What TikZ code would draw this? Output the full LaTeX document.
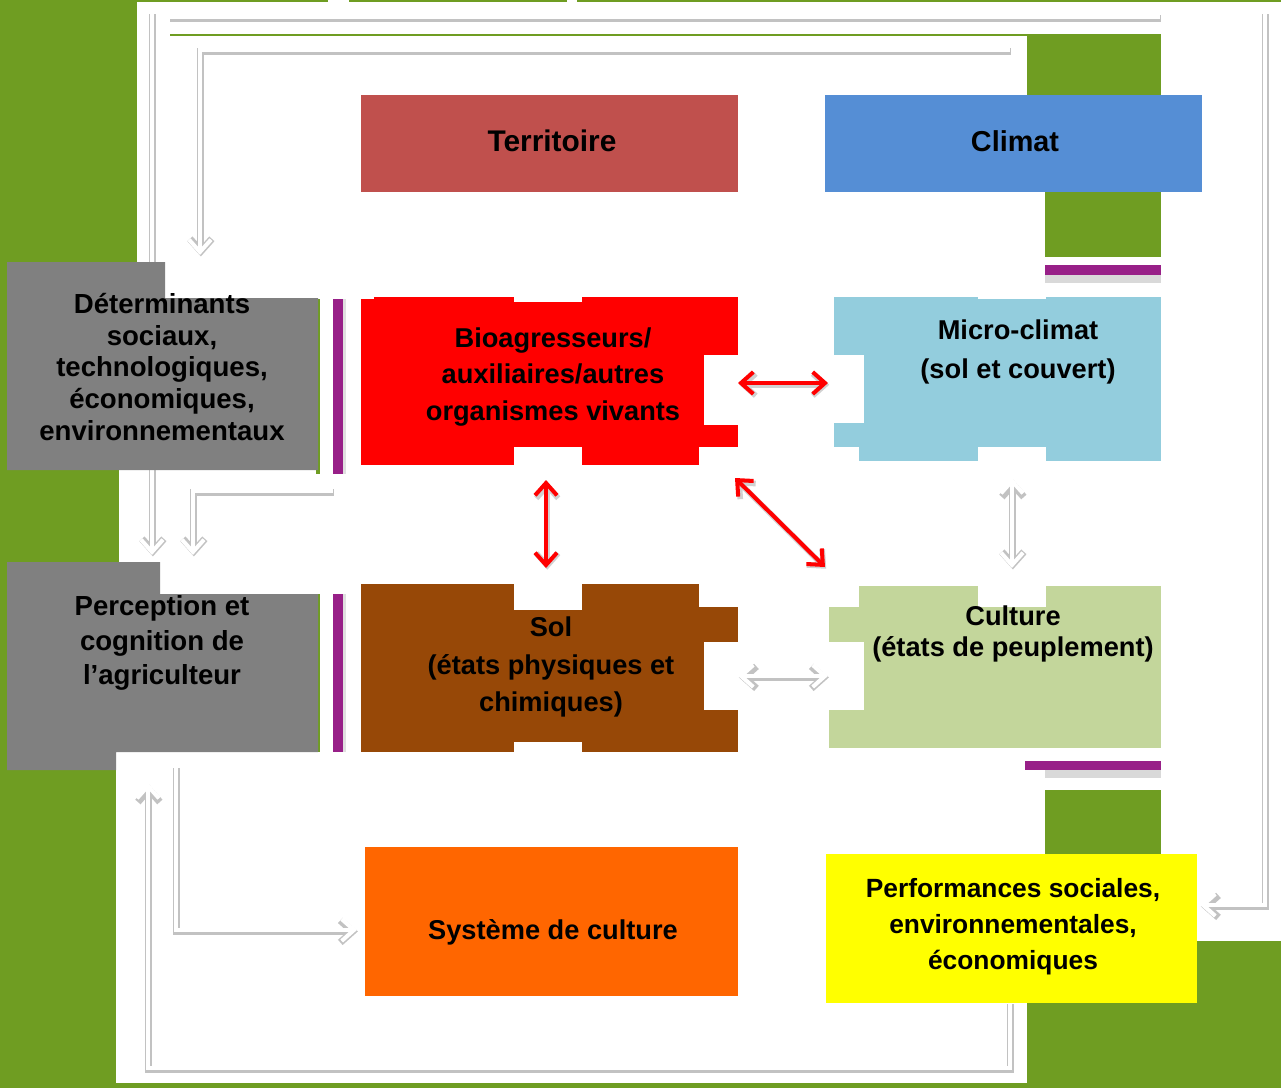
\documentclass[tikz,border=0pt]{standalone}
\usepackage{fontspec}
\setmainfont{Liberation Sans}
\usetikzlibrary{arrows.meta}
\definecolor{bg}{RGB}{111,157,34}
\definecolor{terrc}{RGB}{192,80,77}
\definecolor{climc}{RGB}{85,142,213}
\definecolor{grayc}{RGB}{128,128,128}
\definecolor{bioc}{RGB}{255,0,0}
\definecolor{solc}{RGB}{151,72,7}
\definecolor{microc}{RGB}{147,205,221}
\definecolor{cultc}{RGB}{195,214,155}
\definecolor{sysc}{RGB}{255,102,0}
\definecolor{perfc}{RGB}{255,255,0}
\definecolor{purp}{RGB}{152,32,136}
\tikzset{
  txt/.style={inner sep=0pt, align=center, text=black},
  wline/.style={draw=white, line width=2.3pt,
     preaction={draw=black!24, line width=4pt, transform canvas={shift={(0.5pt,-0.8pt)}}}},
  rline/.style={draw=bioc, line width=2.3pt,
     preaction={draw=black!18, line width=3.2pt, transform canvas={shift={(0.7pt,-1pt)}}}},
  >={Straight Barb[length=7pt,width=12.5pt]}
}
\begin{document}
\begin{tikzpicture}[x=0.02cm,y=-0.02cm]
\useasboundingbox (0,0) rectangle (1281,1088);
% background
\fill[bg] (0,0) rectangle (1281,1088);
\fill[white] (137,2) rectangle (1161,1083);
\fill[white] (1161,2) rectangle (1281,941);
\fill[white] (119,470) rectangle (137,562);
\fill[white] (116,752) rectangle (137,1083);
\fill[white] (328,0) rectangle (349,2);
\fill[white] (567,0) rectangle (577,2);
\fill[bg] (170,34) rectangle (1027,36);
\fill[bg] (1027,34) rectangle (1161,95);
\fill[bg] (1045,192) rectangle (1161,257);
\fill[bg] (1045,790) rectangle (1161,854);
\fill[bg] (1027,1003) rectangle (1281,1088);
\fill[bg] (1197,941) rectangle (1281,1003);

% named coordinates for connector ends
\coordinate (t1a) at (1160,17);
\coordinate (t1b) at (169,17);
\coordinate (l1a) at (152,13);
\coordinate (l1b) at (152,555);
\coordinate (t2a) at (1010,50);
\coordinate (t2b) at (200,255);
\coordinate (r1a) at (1265,13);
\coordinate (r1b) at (1200,905);
\coordinate (d2a) at (333,491);
\coordinate (d2b) at (193,555);
\coordinate (p1a) at (176,767);
\coordinate (p1b) at (357,930);
\coordinate (f1a) at (1010,1003);
\coordinate (f1b) at (148,783);

% long white connectors (behind boxes)
\draw[wline] (t1a) -- (t1b);
\draw[wline,->] (l1a) -- (l1b);
\draw[wline,->] (t2a) -| (t2b);
\draw[wline,->] (r1a) |- (r1b);
\draw[wline,->] (d2a) -| (d2b);
\draw[wline,->] (p1a) |- (p1b);
\draw[wline,->] (f1a) -- (1010,1068) -| (f1b);

% side strips
\fill[bg] (316,299) rectangle (320,474);
\fill[bg] (316,594) rectangle (320,752);
\fill[black!12] (343,299) rectangle (346,474);
\fill[black!12] (343,594) rectangle (346,752);
\fill[purp] (333,299) rectangle (343,474);
\fill[purp] (333,594) rectangle (343,752);
\fill[black!15] (1045,275) rectangle (1161,283);
\fill[purp] (1045,265) rectangle (1161,275);
\fill[black!15] (1045,770) rectangle (1161,778);
\fill[purp] (1025,761) rectangle (1161,770);

% boxes
\fill[terrc] (361,95) rectangle (738,192);
\fill[climc] (825,95) rectangle (1202,192);
\fill[grayc] (7,262) -- (165,262) -- (165,298) -- (318,298) -- (318,470) -- (7,470) -- cycle;
\fill[grayc] (7,562) -- (160,562) -- (160,594) -- (318,594) -- (318,752) -- (116,752) -- (116,770) -- (7,770) -- cycle;
% Bioagresseurs
\fill[bioc] (374,297) rectangle (738,299);
\fill[bioc] (361,299) rectangle (738,447);
\fill[bioc] (361,447) rectangle (699,465);
\fill[white] (514,297) rectangle (582,302);
\fill[white] (704,355) rectangle (738,425);
\fill[white] (514,447) rectangle (582,466);
% Sol
\fill[solc] (361,584) rectangle (699,752);
\fill[solc] (699,607) rectangle (738,752);
\fill[white] (514,584) rectangle (582,610);
\fill[white] (704,642) rectangle (738,710);
\fill[white] (514,742) rectangle (582,752);
% Micro-climat
\fill[microc] (834,297) rectangle (1161,447);
\fill[microc] (859,447) rectangle (1161,461);
\fill[white] (834,355) rectangle (864,423);
\fill[white] (978,447) rectangle (1046,461);
\fill[white] (978,297) rectangle (1046,299);
% Culture
\fill[cultc] (859,586) rectangle (1161,748);
\fill[cultc] (829,607) rectangle (859,748);
\fill[white] (978,586) rectangle (1046,607);
\fill[white] (829,642) rectangle (864,710);
% Systeme, Performances
\fill[sysc] (365,847) rectangle (738,996);
\fill[perfc] (826,854) rectangle (1197,1003);

% texts
\node[txt, font=\fontsize{17}{20}\selectfont\bfseries] (terr) at (552,141) {Territoire};
\node[txt, font=\fontsize{16.4}{20}\selectfont\bfseries] (clim) at (1015,141) {Climat};
\node[txt, font=\fontsize{15.7}{18.2}\selectfont\bfseries] (det) at (162,367) {Déterminants\\sociaux,\\technologiques,\\économiques,\\environnementaux};
\node[txt, font=\fontsize{15.7}{19.8}\selectfont\bfseries] (perc) at (162,643) {Perception et\\cognition de\\l’agriculteur};
\node[txt, font=\fontsize{15.5}{21}\selectfont\bfseries] (bio) at (553,377) {Bioagresseurs/\\auxiliaires/autres\\organismes vivants};
\node[txt, font=\fontsize{15.5}{21.2}\selectfont\bfseries] (sol) at (551,667) {Sol\\(états physiques et\\chimiques)};
\node[txt, font=\fontsize{15.5}{22}\selectfont\bfseries] (micro) at (1018,352) {Micro-climat\\(sol et couvert)};
\node[txt, font=\fontsize{15.5}{17.6}\selectfont\bfseries] (cult) at (1013,634) {Culture\\(états de peuplement)};
\node[txt, font=\fontsize{15.5}{20}\selectfont\bfseries] (sys) at (553,932) {Système de culture};
\node[txt, font=\fontsize{15}{20.4}\selectfont\bfseries] (perf) at (1013,927) {Performances sociales,\\environnementales,\\économiques};

% short connectors between boxes
\coordinate (bm1) at (738,383);
\coordinate (bm2) at (828,383);
\coordinate (bs1) at (546,480);
\coordinate (bs2) at (546,568);
\coordinate (bc1) at (735,478);
\coordinate (bc2) at (825,567);
\coordinate (mc1) at (1012,478);
\coordinate (mc2) at (1012,568);
\coordinate (sc1) at (738,676);
\coordinate (sc2) at (828,676);
\draw[rline,<->] (bm1) -- (bm2);
\draw[rline,<->] (bs1) -- (bs2);
\draw[rline,<->] (bc1) -- (bc2);
\draw[wline,<->] (mc1) -- (mc2);
\draw[wline,<->] (sc1) -- (sc2);
\end{tikzpicture}
\end{document}
